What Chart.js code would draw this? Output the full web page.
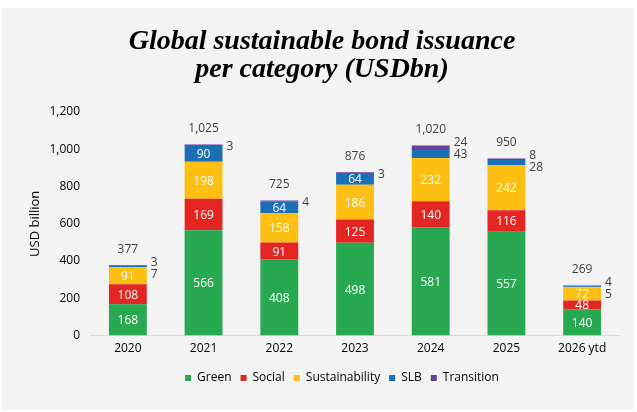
<!DOCTYPE html>
<html>
<head>
<meta charset="utf-8">
<script src="https://cdn.jsdelivr.net/npm/chart.js@4"></script>
<style>
  body { margin: 0; background: #ffffff; }
  #panel { position: absolute; left: 2px; top: 8px; width: 632px; height: 402px; background: #f3f3f3; }
  #wrap { position: absolute; left: 0; top: 0; width: 637px; height: 412px; }
</style>
</head>
<body>
<div id="panel"></div>
<div id="wrap"><canvas id="grafico"></canvas></div>
<script>
// Datos del gráfico
var categorias = ["2020", "2021", "2022", "2023", "2024", "2025", "2026 ytd"];
var green = [168, 566, 408, 498, 581, 557, 140];
var social = [108, 169, 91, 125, 140, 116, 48];
var sustainability = [91, 198, 158, 186, 232, 242, 72];
var slb = [7, 90, 64, 64, 43, 28, 5];
var transition = [3, 3, 4, 3, 24, 8, 4];
var totales = [377, 1025, 725, 876, 1020, 950, 269];
var ticksY = [0, 200, 400, 600, 800, 1000, 1200];

var colorTexto = "#404040";
var fuente = "'Open Sans', 'Noto Sans', sans-serif";

function formato(v) {
    return v.toLocaleString("en-US");
}

// Plugin para dibujar las etiquetas de los valores y los totales
var etiquetas = {
    id: "etiquetas",
    afterLayout: function(chart) {
        // mover un poco el título y la leyenda como en la imagen original
        chart.titleBlock.left += 12;
        chart.titleBlock.right += 12;
        chart.legend.left += 32;
        chart.legend.right += 32;
        chart.legend.top += 1;
        chart.legend.bottom += 1;
    },
    afterDatasetsDraw: function(chart) {
        var ctx = chart.ctx;
        ctx.save();
        ctx.font = "12px " + fuente;
        ctx.textBaseline = "middle";
        var metaTr = chart.getDatasetMeta(4);
        for (var i = 0; i < categorias.length; i++) {
            // etiquetas dentro de las barras
            for (var d = 0; d < 4; d++) {
                var valor = chart.data.datasets[d].data[i];
                if (d == 3 && valor < 50) continue;
                var el = chart.getDatasetMeta(d).data[i];
                ctx.fillStyle = "#ffffff";
                ctx.textAlign = "center";
                ctx.fillText(formato(valor), el.x, (el.y + el.base) / 2 + 1);
            }
            // etiquetas fuera de la barra (SLB pequeño y Transition)
            var elTr = metaTr.data[i];
            var arriba = elTr.y;
            var xDer = elTr.x + elTr.width / 2 + 4;
            ctx.fillStyle = colorTexto;
            ctx.textAlign = "left";
            if (slb[i] < 50) {
                ctx.fillText(formato(transition[i]), xDer, arriba - 3);
                ctx.fillText(formato(slb[i]), xDer, arriba + 9);
            } else {
                ctx.fillText(formato(transition[i]), xDer, arriba + 2);
            }
            // total encima de la barra
            ctx.textAlign = "center";
            ctx.fillText(formato(totales[i]), elTr.x, arriba - 16);
        }
        ctx.restore();
    }
};

function serie(nombre, datos, color) {
    return {
        label: nombre,
        data: datos,
        backgroundColor: color,
        borderWidth: 0,
        categoryPercentage: 1,
        barPercentage: 0.5
    };
}

var config = {
    type: "bar",
    data: {
        labels: categorias,
        datasets: [
            serie("Green", green, "#29a852"),
            serie("Social", social, "#e42522"),
            serie("Sustainability", sustainability, "#fcbf12"),
            serie("SLB", slb, "#1b6fb7"),
            serie("Transition", transition, "#6a3d97")
        ]
    },
    options: {
        responsive: true,
        maintainAspectRatio: false,
        animation: false,
        layout: { padding: { left: 0, right: 17, top: 0, bottom: 19 } },
        plugins: {
            title: {
                display: true,
                text: ["Global sustainable bond issuance", "per category (USDbn)"],
                font: { family: "'Liberation Serif', serif", size: 28, weight: "bold", style: "italic", lineHeight: 1 },
                color: "#000000",
                padding: { top: 28, bottom: 28 }
            },
            legend: {
                position: "bottom",
                labels: {
                    boxWidth: 6,
                    boxHeight: 6,
                    padding: 9,
                    color: "#000000",
                    font: { family: fuente, size: 12 }
                }
            },
            tooltip: { enabled: false }
        },
        scales: {
            x: {
                stacked: true,
                grid: { display: false, drawTicks: false },
                border: { display: true, color: "#d9d9d9", width: 1 },
                ticks: { color: "#000000", padding: 6, font: { family: fuente, size: 12 } }
            },
            y: {
                stacked: true,
                min: 0,
                max: 1200,
                afterBuildTicks: function(scale) {
                    scale.ticks = ticksY.map(function(v) { return { value: v }; });
                },
                afterFit: function(scale) { scale.width = 90; },
                grid: { display: false, drawTicks: false },
                border: { display: false },
                ticks: {
                    color: "#000000",
                    padding: 10,
                    font: { family: fuente, size: 12 },
                    callback: function(v) { return formato(v); }
                },
                title: {
                    display: true,
                    text: "USD billion",
                    color: "#000000",
                    font: { family: fuente, size: 13 },
                    padding: { top: 27, bottom: 0 }
                }
            }
        }
    },
    plugins: [etiquetas]
};

new Chart(document.getElementById("grafico").getContext("2d"), config);
</script>
</body>
</html>
